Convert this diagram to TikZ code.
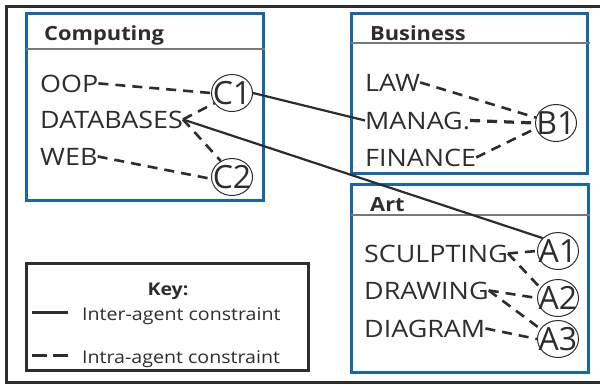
\documentclass[tikz,border=0pt]{standalone}
\usepackage{fontspec}
\setmainfont{Open Sans}[FakeStretch=1.12]
\newfontfamily\varfam{Open Sans}
\usetikzlibrary{shapes.geometric}
\definecolor{boxblue}{RGB}{22,103,163}
\definecolor{textgray}{RGB}{45,45,45}
\definecolor{linegray}{RGB}{45,45,45}
\definecolor{rulegray}{RGB}{120,120,120}
\newcommand{\vlabel}[1]{\makebox[0pt]{#1}}
\tikzset{
  agentbox/.style={draw=boxblue, line width=3pt},
  headrule/.style={draw=rulegray, line width=1.3pt},
  frame/.style={draw=linegray, line width=3pt},
  title/.style={anchor=base west, inner sep=0pt, text=textgray, font=\fontsize{19.5}{22}\selectfont\bfseries},
  item/.style={anchor=base west, inner sep=0pt, text=textgray, font=\fontsize{24}{28}\selectfont},
  var/.style={ellipse, draw=textgray, line width=1pt, minimum width=41pt, minimum height=37pt, inner sep=0pt, text=textgray, font=\varfam\fontsize{32}{34}\selectfont},
  intra/.style={draw=linegray, line width=2.6pt, dash pattern=on 10pt off 7pt},
  inter/.style={draw=linegray, line width=2.2pt},
  keytext/.style={anchor=base west, inner sep=0pt, text=textgray, font=\fontsize{17.5}{20}\selectfont},
}
\begin{document}
\begin{tikzpicture}[x=1pt,y=-1pt]
\useasboundingbox (0,0) rectangle (600,384);
% outer frame
\draw[frame] (600,6) -- (6,6) -- (6,382) -- (600,382);
% agent boxes
\draw[agentbox] (26,13) rectangle (263,200);
\draw[headrule] (26,49) -- (265,49);
\draw[agentbox] (351,13) rectangle (587,173);
\draw[headrule] (351,43) -- (590,43);
\draw[agentbox] (351,184) rectangle (588,372);
\draw[headrule] (351,215) -- (590,215);
% key box
\draw[frame] (26,263) rectangle (308,370);
% titles
\node[title] (tcomp) at (44,40) {Computing};
\node[title] (tbus) at (370,40) {Business};
\node[title] (tart) at (370,211) {Art};
% items
\node[item] (oop) at (40,92) {OOP};
\node[item] (db) at (40,128) {DATABASES};
\node[item] (web) at (40,165) {WEB};
\node[item] (law) at (365,91) {LAW};
\node[item] (manag) at (365,129) {MANAG.};
\node[item] (fin) at (365,166) {FINANCE};
\node[item] (sculpt) at (364,262) {SCULPTING};
\node[item] (drawing) at (364,299) {DRAWING};
\node[item] (diagram) at (364,337) {DIAGRAM};
% variables
\node[var] (c1) at (232,93) {\vlabel{C1}};
\node[var] (c2) at (232,177) {\vlabel{C2}};
\node[var] (b1) at (556,123) {\vlabel{B1}};
\node[var] (a1) at (558,251) {\vlabel{A1}};
\node[var] (a2) at (558,298) {\vlabel{A2}};
\node[var] (a3) at (558,339) {\vlabel{A3}};
% intra-agent constraints
\draw[intra] (oop.east) -- (c1.west);
\draw[intra] (db.east) -- (c1.210);
\draw[intra] (db.east) -- (c2.125);
\draw[intra] (web.east) -- (c2.185);
\draw[intra] (law.east) -- (b1.165);
\draw[intra, line width=3.2pt] (manag.east) -- (b1.west);
\draw[intra] (fin.east) -- (b1.195);
\draw[intra] (sculpt.east) -- (a1.west);
\draw[intra] (sculpt.east) -- (a2.150);
\draw[intra] (drawing.east) -- (a2.west);
\draw[intra] (drawing.east) -- (a3.150);
\draw[intra] (diagram.east) -- (a3.west);
% inter-agent constraints
\draw[inter] (c1.east) -- (manag.west);
\draw[inter] (db.east) -- (a1.140);
% key
\node[anchor=base, inner sep=0pt, text=textgray, font=\fontsize{17.5}{20}\selectfont\bfseries] (keyt) at (168,295) {Key:};
\node[keytext] (kinter) at (82,320) {Inter-agent constraint};
\node[keytext] (kintra) at (82,363) {Intra-agent constraint};
\coordinate (ks1) at (32,312);
\coordinate (ke1) at (68,312);
\coordinate (ks2) at (32,355);
\coordinate (ke2) at (68,355);
\draw[inter, line width=3pt] (ks1) -- (ke1);
\draw[draw=linegray, line width=3pt, dash pattern=on 15pt off 6pt] (ks2) -- (ke2);
\end{tikzpicture}
\end{document}
